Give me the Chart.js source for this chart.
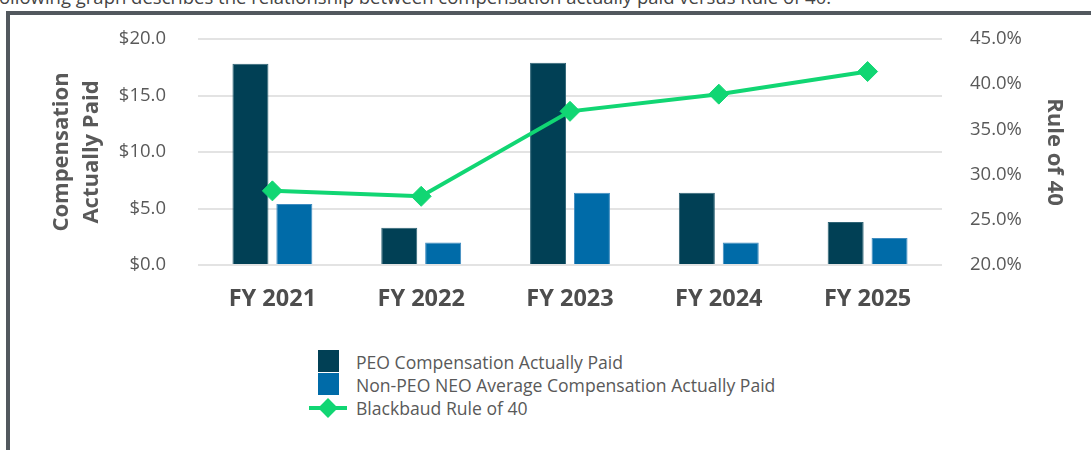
<!DOCTYPE html>
<html>
<head>
<meta charset="utf-8">
<script src="https://cdn.jsdelivr.net/npm/chart.js@4.4.1/dist/chart.umd.min.js"></script>
<style>
  html, body { margin: 0; padding: 0; background: #fff; }
  body { width: 1091px; height: 450px; position: relative; overflow: hidden; font-family: "Open Sans", sans-serif; }
  .intro { position: absolute; left: -44px; top: -11px; font-size: 18.5px; line-height: 16px; color: #444; white-space: nowrap; }
  .frame { position: absolute; left: 6px; top: 11px; width: 1200px; height: 600px; border-left: 4px solid #52585e; border-top: 4px solid #52585e; }
  .chart-container { position: absolute; left: 10px; top: 15px; width: 1081px; height: 320px; }
  #legend { position: absolute; left: 309px; top: 350px; }
  .legend-row { display: flex; align-items: center; height: 23px; }
  .legend-icon { width: 38px; height: 23px; position: relative; }
  .legend-box { position: absolute; left: 9px; top: 0; width: 21px; height: 22px; }
  .legend-line { position: absolute; left: 0; top: 10px; width: 38px; height: 4px; }
  .legend-diamond { position: absolute; left: 12px; top: 5px; width: 14px; height: 14px; transform: rotate(45deg); }
  .legend-text { margin-left: 9px; font-size: 17.6px; color: #595959; white-space: nowrap; }
</style>
</head>
<body>
<div class="intro">The following graph describes the relationship between compensation actually paid versus Rule of 40.</div>
<div class="frame"></div>
<div class="chart-container">
  <canvas id="capChart" width="1081" height="320"></canvas>
</div>
<div id="legend"></div>
<script type="text/javascript">
  // values
  var years = ["FY 2021", "FY 2022", "FY 2023", "FY 2024", "FY 2025"];
  var peoCap = [17.8, 3.3, 17.9, 6.4, 3.8];          // $ millions
  var neoCap = [5.4, 2.0, 6.4, 2.0, 2.4];            // $ millions
  var ruleOf40 = [28.2, 27.6, 37.0, 38.9, 41.4];     // percent

  var peoColor = "#014055";
  var neoColor = "#006ba8";
  var lineColor = "#11d673";
  var textGray = "#595959";

  // keep the tick padding from pushing the plot area down
  function fitVertical(width) {
    return function (scale) {
      scale.width = width;
      scale.paddingTop = 12;
      scale.paddingBottom = 12;
    };
  }

  var chart = new Chart("capChart", {
    type: "bar",
    data: {
      labels: years,
      datasets: [
        {
          label: "PEO Compensation Actually Paid",
          data: peoCap,
          backgroundColor: peoColor,
          borderColor: "#2f6476",
          borderWidth: 1,
          yAxisID: "y",
          order: 2,
          categoryPercentage: 0.59,
          barPercentage: 0.82
        },
        {
          label: "Non-PEO NEO Average Compensation Actually Paid",
          data: neoCap,
          backgroundColor: neoColor,
          borderColor: "#3f8cc0",
          borderWidth: 1,
          yAxisID: "y",
          order: 3,
          categoryPercentage: 0.59,
          barPercentage: 0.82
        },
        {
          type: "line",
          label: "Blackbaud Rule of 40",
          data: ruleOf40,
          borderColor: lineColor,
          backgroundColor: lineColor,
          borderWidth: 4,
          pointStyle: "rectRot",
          pointRadius: 10,
          pointHoverRadius: 10,
          pointBorderWidth: 1,
          yAxisID: "y1",
          order: 1,
          tension: 0
        }
      ]
    },
    options: {
      responsive: false,
      animation: false,
      layout: { padding: { top: 24, bottom: 0, left: 0, right: 0 } },
      plugins: {
        legend: { display: false },
        tooltip: { enabled: false }
      },
      scales: {
        x: {
          grid: { display: false, drawTicks: false },
          border: { display: false },
          ticks: {
            color: "#4d4d4d",
            padding: 20,
            font: { family: "Open Sans", size: 23.5, weight: "bold" }
          },
          afterFit: function (scale) { scale.height = 70; }
        },
        y: {
          position: "left",
          min: 0,
          max: 20,
          grid: { color: "#e3e3e3", lineWidth: 2, drawTicks: false },
          border: { display: false },
          ticks: {
            stepSize: 5,
            color: textGray,
            padding: 32,
            font: { family: "Open Sans", size: 18.5 },
            callback: function (v) { return "$" + v.toFixed(1); }
          },
          title: {
            display: true,
            text: ["Compensation", "Actually Paid"],
            color: textGray,
            padding: { top: 36, bottom: 0 },
            font: { family: "Open Sans", size: 22, weight: "bold", lineHeight: 1.4 }
          },
          afterFit: fitVertical(188)
        },
        y1: {
          position: "right",
          min: 20,
          max: 45,
          grid: { display: false, drawTicks: false },
          border: { display: false },
          ticks: {
            stepSize: 5,
            color: textGray,
            padding: 28,
            font: { family: "Open Sans", size: 18.5 },
            callback: function (v) { return v.toFixed(1) + "%"; }
          },
          title: {
            display: true,
            text: "Rule of 40",
            color: textGray,
            padding: { top: 24, bottom: 0 },
            font: { family: "Open Sans", size: 22, weight: "bold", lineHeight: 1.2 }
          },
          afterFit: fitVertical(149)
        }
      }
    }
  });

  // legend drawn as html, stacked one item per row
  var legendEl = document.getElementById("legend");
  chart.data.datasets.forEach(function (ds) {
    var row = document.createElement("div");
    row.className = "legend-row";
    var icon = document.createElement("div");
    icon.className = "legend-icon";
    if (ds.type === "line") {
      var ln = document.createElement("div");
      ln.className = "legend-line";
      ln.style.background = ds.borderColor;
      var dm = document.createElement("div");
      dm.className = "legend-diamond";
      dm.style.background = ds.backgroundColor;
      icon.appendChild(ln);
      icon.appendChild(dm);
    } else {
      var bx = document.createElement("div");
      bx.className = "legend-box";
      bx.style.background = ds.backgroundColor;
      icon.appendChild(bx);
    }
    var txt = document.createElement("span");
    txt.className = "legend-text";
    txt.textContent = ds.label;
    row.appendChild(icon);
    row.appendChild(txt);
    legendEl.appendChild(row);
  });
</script>
</body>
</html>
